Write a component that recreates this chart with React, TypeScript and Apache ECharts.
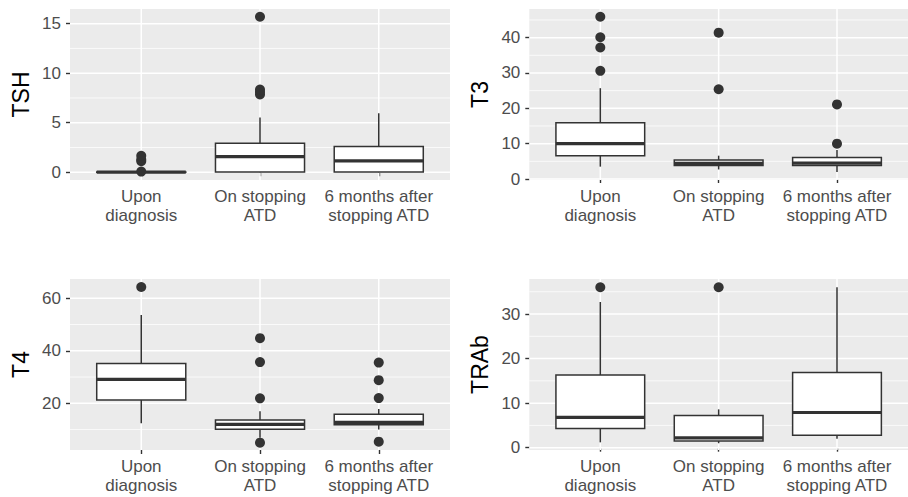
import React, { useEffect, useRef } from "react";
import * as echarts from "echarts";

const categories = ["Upon\ndiagnosis", "On stopping\nATD", "6 months after\nstopping ATD"];

// [min, Q1, median, Q3, max] per category
const tshStats = [
  [0.003, 0.005, 0.01, 0.02, 0.04],
  [0.01, 0.03, 1.57, 2.92, 5.54],
  [0.01, 0.03, 1.15, 2.6, 5.95],
];
const tshOutliers = [[0.07, 1.12, 1.28, 1.67], [7.85, 8.1, 8.35, 15.7], []];

const t3Stats = [
  [3.5, 6.6, 10.0, 15.9, 25.7],
  [2.7, 3.8, 4.4, 5.4, 6.6],
  [2.0, 3.8, 4.5, 6.1, 8.2],
];
const t3Outliers = [[30.6, 37.2, 40.1, 45.9], [25.4, 41.4], [10.0, 21.1]];

const t4Stats = [
  [12.4, 21.3, 29.1, 35.2, 53.6],
  [6.9, 10.1, 12.0, 13.6, 17.0],
  [10.0, 11.8, 12.7, 15.8, 17.8],
];
const t4Outliers = [[64.3], [5.0, 21.9, 35.7, 44.8], [5.4, 22.0, 28.8, 35.5]];

const trabStats = [
  [1.2, 4.3, 6.8, 16.3, 32.7],
  [1.0, 1.5, 2.2, 7.2, 8.6],
  [2.0, 2.8, 7.9, 16.9, 36.0],
];
const trabOutliers = [[36.0], [36.0], []];

const tshTicks = [0, 5, 10, 15];
const tshMinor = [2.5, 7.5, 12.5];
const t3Ticks = [0, 10, 20, 30, 40];
const t3Minor = [5, 15, 25, 35, 45];
const t4Ticks = [20, 40, 60];
const t4Minor = [10, 30, 50];
const trabTicks = [0, 10, 20, 30];
const trabMinor = [5, 15, 25, 35];

const panels = [
  { name: "TSH", stats: tshStats, outliers: tshOutliers, ticks: tshTicks, minor: tshMinor, min: -0.78, max: 16.48, grid: { left: 70, right: 458, top: 9, bottom: 317 } },
  { name: "T3", stats: t3Stats, outliers: t3Outliers, ticks: t3Ticks, minor: t3Minor, min: -0.28, max: 48.1, grid: { left: 529.3, right: -2.5, top: 9, bottom: 317 } },
  { name: "T4", stats: t4Stats, outliers: t4Outliers, ticks: t4Ticks, minor: t4Minor, min: 2.21, max: 67.35, grid: { left: 70, right: 458, top: 279, bottom: 47 } },
  { name: "TRAb", stats: trabStats, outliers: trabOutliers, ticks: trabTicks, minor: trabMinor, min: -0.52, max: 37.86, grid: { left: 529.3, right: -2.5, top: 279, bottom: 47 } },
];

const FONT = "'Liberation Sans', Arial, sans-serif";
const DARK = "#333333";

export default function App() {
  const ref = useRef<HTMLDivElement>(null);
  useEffect(() => {
    if (!ref.current) return;
    const chart = echarts.init(ref.current, null, { renderer: "svg" });
    const grids: any[] = [];
    const xAxes: any[] = [];
    const yAxes: any[] = [];
    const series: any[] = [];
    const catValues = categories.map((_, i) => i + 1);

    panels.forEach((p, pi) => {
      grids.push({ ...p.grid, show: true, backgroundColor: "#EBEBEB", borderWidth: 0 });
      xAxes.push({
        type: "value",
        gridIndex: pi,
        min: 0.4,
        max: 3.6,
        axisLine: { show: false },
        splitLine: { show: false },
        axisTick: { show: true, customValues: catValues, length: 4, lineStyle: { color: DARK, width: 1.4 } },
        axisLabel: {
          customValues: catValues,
          formatter: (v: number) => categories[Math.round(v) - 1] ?? "",
          color: "#4D4D4D",
          fontFamily: FONT,
          fontSize: 17,
          lineHeight: 19.5,
          margin: 6.5,
        },
      });
      yAxes.push({
        type: "value",
        gridIndex: pi,
        min: p.min,
        max: p.max,
        name: p.name,
        nameLocation: "middle",
        nameRotate: 90,
        nameGap: 38,
        nameTextStyle: { color: "#000", fontFamily: FONT, fontSize: 23 },
        axisLine: { show: false },
        splitLine: { show: false },
        axisTick: { show: true, customValues: p.ticks, length: 4, lineStyle: { color: DARK, width: 1.4 } },
        axisLabel: { customValues: p.ticks, color: "#4D4D4D", fontFamily: FONT, fontSize: 17, margin: 9 },
      });

      // grid lines: [kind, value] kind 0 major horizontal, 1 minor horizontal, 2 vertical
      const gridData: number[][] = [
        ...p.minor.map((v) => [1, v]),
        ...p.ticks.map((v) => [0, v]),
        ...catValues.map((v) => [2, v]),
      ];
      series.push({
        type: "custom",
        xAxisIndex: pi,
        yAxisIndex: pi,
        z: 1,
        silent: true,
        data: gridData,
        encode: { x: -1, y: -1 },
        renderItem: (params: any, api: any) => {
          const cs = params.coordSys;
          const kind = api.value(0);
          const v = api.value(1);
          if (kind === 2) {
            const px = api.coord([v, p.min])[0];
            return { type: "line", shape: { x1: px, y1: cs.y, x2: px, y2: cs.y + cs.height }, style: { stroke: "#FFFFFF", lineWidth: 1.5 } };
          }
          const py = api.coord([1, v])[1];
          return {
            type: "line",
            shape: { x1: cs.x, y1: py, x2: cs.x + cs.width, y2: py },
            style: { stroke: "#FFFFFF", lineWidth: kind === 0 ? 1.5 : 0.75 },
          };
        },
      });

      series.push({
        type: "custom",
        xAxisIndex: pi,
        yAxisIndex: pi,
        z: 3,
        silent: true,
        data: p.stats.map((s, i) => [i + 1, ...s]),
        encode: { x: 0, y: [1, 2, 3, 4, 5] },
        renderItem: (params: any, api: any) => {
          const x = api.value(0);
          const w = api.size([0.75, 0])[0];
          const pMin = api.coord([x, api.value(1)]);
          const pQ1 = api.coord([x, api.value(2)]);
          const pMed = api.coord([x, api.value(3)]);
          const pQ3 = api.coord([x, api.value(4)]);
          const pMax = api.coord([x, api.value(5)]);
          const cx = pMed[0];
          return {
            type: "group",
            children: [
              { type: "line", shape: { x1: cx, y1: pMin[1], x2: cx, y2: pQ1[1] }, style: { stroke: DARK, lineWidth: 1.5 } },
              { type: "line", shape: { x1: cx, y1: pQ3[1], x2: cx, y2: pMax[1] }, style: { stroke: DARK, lineWidth: 1.5 } },
              { type: "rect", shape: { x: cx - w / 2, y: pQ3[1], width: w, height: pQ1[1] - pQ3[1] }, style: { fill: "#FFFFFF", stroke: DARK, lineWidth: 1.5 } },
              { type: "line", shape: { x1: cx - w / 2, y1: pMed[1], x2: cx + w / 2, y2: pMed[1] }, style: { stroke: DARK, lineWidth: 3.2 } },
            ],
          };
        },
      });

      const outData: number[][] = [];
      p.outliers.forEach((arr, i) => arr.forEach((v) => outData.push([i + 1, v])));
      series.push({
        type: "scatter",
        xAxisIndex: pi,
        yAxisIndex: pi,
        z: 4,
        silent: true,
        symbol: "circle",
        symbolSize: 10,
        itemStyle: { color: DARK, opacity: 1 },
        data: outData,
      });
    });

    chart.setOption({
      animation: false,
      backgroundColor: "#FFFFFF",
      textStyle: { fontFamily: FONT },
      grid: grids,
      xAxis: xAxes,
      yAxis: yAxes,
      series,
    });
    return () => chart.dispose();
  }, []);
  return <div ref={ref} style={{ position: "fixed", left: 0, top: 0, width: 908, height: 497 }} />;
}
